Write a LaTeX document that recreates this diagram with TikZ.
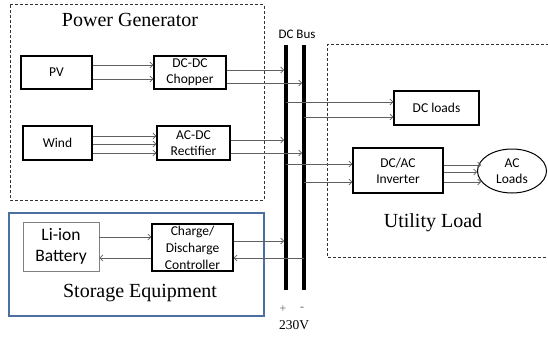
\documentclass[tikz,border=0pt]{standalone}
\usepackage{fontspec}
\setmainfont{Liberation Serif}
\newfontfamily\boxfont{Carlito}
\usetikzlibrary{arrows.meta,shapes.geometric}
\definecolor{linegray}{HTML}{606060}
\definecolor{storeblue}{HTML}{4A6FA0}
\tikzset{
  blk/.style={draw=black, line width=1.1pt, inner sep=0pt, align=center, font=\boxfont\fontsize{13.5}{16}\selectfont},
  arr/.style={draw=linegray, line width=0.7pt, -{Straight Barb[length=3pt,width=6pt]}},
  ln/.style={draw=linegray, line width=0.7pt},
  dashbox/.style={draw=black!80, line width=1pt, dash pattern=on 3pt off 2pt},
  title/.style={font=\fontsize{20}{24}\selectfont},
  bus/.style={line width=4pt, draw=black}
}
\begin{document}
\begin{tikzpicture}[x=1pt,y=-1pt]
\useasboundingbox (0,0) rectangle (548,337);
% group boxes
\draw[dashbox] (10,5) rectangle (264,200);
\draw[dashbox] (549,45) -- (327,45) -- (327,257) -- (549,257);
\draw[draw=storeblue, line width=1.2pt] (9,213) rectangle (264,316);
% titles
\node[title] (tpg) at (130,20) {Power Generator};
\node[title] (tul) at (433,223) {Utility Load};
\node[title] (tse) at (140,293) {Storage Equipment};
\node[font=\boxfont\fontsize{13}{15}\selectfont] (tbus) at (297,34) {DC Bus};
\node[text=linegray, font=\fontsize{12}{14}\selectfont] (tplus) at (283,309) {+};
\node[text=linegray, font=\fontsize{12}{14}\selectfont] (tminus) at (302,309) {-};
\node[font=\fontsize{13.5}{16}\selectfont] (tv) at (294,325) {230V};
% blocks
\node[blk, minimum width=71pt, minimum height=33pt] (pv) at (56.5,72.5) {PV};
\node[blk, minimum width=72pt, minimum height=33pt] (chop) at (190,72.5) {DC-DC\\Chopper};
\node[blk, minimum width=69pt, minimum height=34pt] (wind) at (57.5,143) {Wind};
\node[blk, minimum width=73pt, minimum height=34pt] (rect) at (193.5,143) {AC-DC\\Rectifier};
\node[blk, draw=black!50, line width=0.9pt, minimum width=76pt, minimum height=49pt, font=\boxfont\fontsize{17.5}{21}\selectfont] (batt) at (61,246.5) {Li-ion\\Battery};
\node[blk, minimum width=81pt, minimum height=47pt, font=\boxfont\fontsize{13.5}{17}\selectfont] (ctrl) at (192.5,247.5) {Charge/\\Discharge\\Controller};
\node[blk, minimum width=85pt, minimum height=34pt] (dcl) at (436.5,108) {DC loads};
\node[blk, minimum width=90pt, minimum height=45pt] (inv) at (398,170.5) {DC/AC\\Inverter};
\node[blk, ellipse, line width=1pt, minimum width=69pt, minimum height=44pt] (acl) at (512,171) {AC\\Loads};
% bus
\coordinate (ptop) at (286,45);
\coordinate (pbot) at (286,290);
\coordinate (ntop) at (304,45);
\coordinate (nbot) at (304,290);
\draw[bus] (ptop) -- (pbot);
\draw[bus] (ntop) -- (nbot);
% generator arrows
\draw[arr] (pv.east|-0,65) -- (chop.west|-0,65);
\draw[arr] (pv.east|-0,79) -- (chop.west|-0,79);
\draw[arr] (wind.east|-0,136) -- (rect.west|-0,136);
\draw[arr] (wind.east|-0,144) -- (rect.west|-0,144);
\draw[arr] (wind.east|-0,153) -- (rect.west|-0,153);
\draw[arr] (chop.east|-0,70) -- ([xshift=-2pt]ptop|-0,70);
\draw[arr] (chop.east|-0,83) -- ([xshift=-2pt]ntop|-0,83);
\draw[arr] (rect.east|-0,140) -- ([xshift=-2pt]ptop|-0,140);
\draw[arr] (rect.east|-0,153) -- ([xshift=-2pt]ntop|-0,153);
% loads
\draw[arr] (ptop|-0,102) -- (dcl.west|-0,102);
\draw[arr] (ntop|-0,117) -- (dcl.west|-0,117);
\draw[arr] (ptop|-0,164) -- (inv.west|-0,164);
\draw[arr] (ntop|-0,182) -- (inv.west|-0,182);
\draw[arr] (inv.east|-0,165) -- (481,165);
\draw[arr] (inv.east|-0,172) -- (acl.west|-0,172);
\draw[arr] (inv.east|-0,182) -- (481,182);
% storage
\draw[arr] (batt.east|-0,237) -- (ctrl.west|-0,237);
\draw[arr] (ctrl.west|-0,258) -- (batt.east|-0,258);
\draw[arr] (ctrl.east|-0,241) -- ([xshift=-2pt]ptop|-0,241);
\draw[arr] (ntop|-0,258) -- (ctrl.east|-0,258);
\end{tikzpicture}
\end{document}
